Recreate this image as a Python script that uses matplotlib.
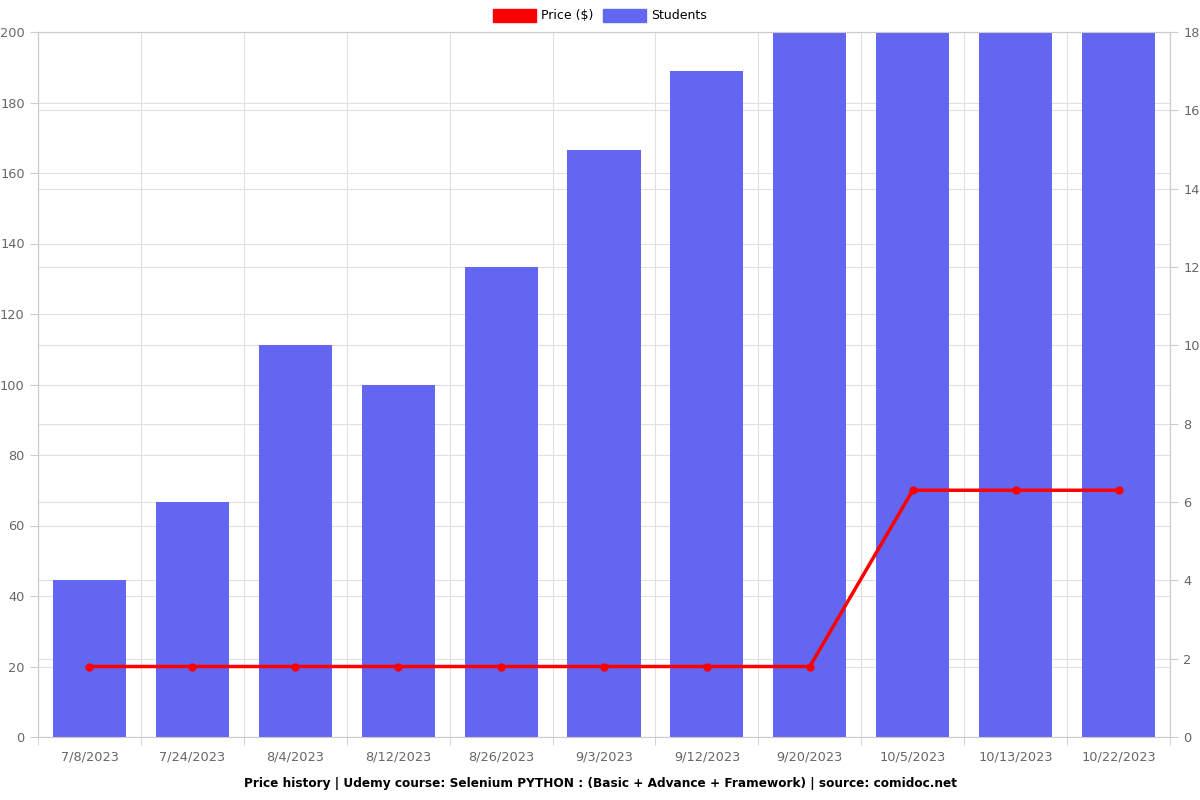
import numpy as np
import matplotlib
matplotlib.use("Agg")
import matplotlib.pyplot as plt
from matplotlib.patches import Patch

plt.rcParams["font.family"] = ["DejaVu Sans"]

# datos
fechas = ["7/8/2023", "7/24/2023", "8/4/2023", "8/12/2023", "8/26/2023", "9/3/2023",
          "9/12/2023", "9/20/2023", "10/5/2023", "10/13/2023", "10/22/2023"]
precio = [20, 20, 20, 20, 20, 20, 20, 20, 70, 70, 70]
estudiantes = [4, 6, 10, 9, 12, 15, 17, 18, 18, 18, 18]

color_barra = "#6366F1"
color_linea = "#FF0000"
gris = "#666666"
gris_grid = "#E0E0E0"

fig = plt.figure(figsize=(12, 8), dpi=100)
# eje de barras (estudiantes) con escala a la derecha
ax_est = fig.add_axes([38 / 1200, 63 / 800, 1132 / 1200, 705 / 800])
ax_precio = ax_est.twinx()

x = np.arange(len(fechas))

ax_est.bar(x, estudiantes, width=0.71, color=color_barra, zorder=3)
ax_est.set_ylim(0, 18)
ax_est.set_yticks(np.arange(0, 19, 2))
ax_est.yaxis.tick_right()
ax_est.set_axisbelow(True)
ax_est.grid(axis="y", color=gris_grid, linewidth=0.8)

# lineas de cuadricula del eje de precio, dibujadas detras de las barras
for p in range(20, 201, 20):
    ax_est.axhline(p * 18 / 200, color=gris_grid, linewidth=0.8, zorder=0)

ax_est.set_xlim(-0.5, len(fechas) - 0.5)
ax_est.set_xticks(x)
ax_est.set_xticklabels(fechas)
ax_est.set_xticks(np.arange(-0.5, len(fechas)), minor=True)
ax_est.grid(axis="x", which="minor", color=gris_grid, linewidth=0.8)
ax_est.tick_params(axis="x", which="major", length=0, pad=10, colors=gris, labelsize=9.3)
ax_est.tick_params(axis="x", which="minor", length=6, color="#CCCCCC")
ax_est.tick_params(axis="y", length=6, color="#CCCCCC", labelcolor=gris, labelsize=9.3)

ax_precio.plot(x, precio, color=color_linea, linewidth=2.5, marker="o", markersize=5, zorder=4)
ax_precio.set_ylim(0, 200)
ax_precio.set_yticks(np.arange(0, 201, 20))
ax_precio.yaxis.tick_left()
ax_precio.tick_params(axis="y", length=6, color="#CCCCCC", labelcolor=gris, labelsize=9.3)

for a in (ax_est, ax_precio):
    for s in a.spines.values():
        s.set_color("#CCCCCC")

fig.legend(handles=[Patch(color=color_linea, label="Price ($)"),
                    Patch(color=color_barra, label="Students")],
           loc="upper center", bbox_to_anchor=(0.5, 1.003), ncol=2, frameon=False,
           handlelength=3.4, handleheight=1.2, fontsize=9, columnspacing=0.8, handletextpad=0.4)

fig.text(0.5, 1 - 783 / 800,
         "Price history | Udemy course: Selenium PYTHON : (Basic + Advance + Framework) | source: comidoc.net",
         ha="center", va="center", fontsize=8.7, fontweight="bold")

plt.savefig("out.png", dpi=100)
